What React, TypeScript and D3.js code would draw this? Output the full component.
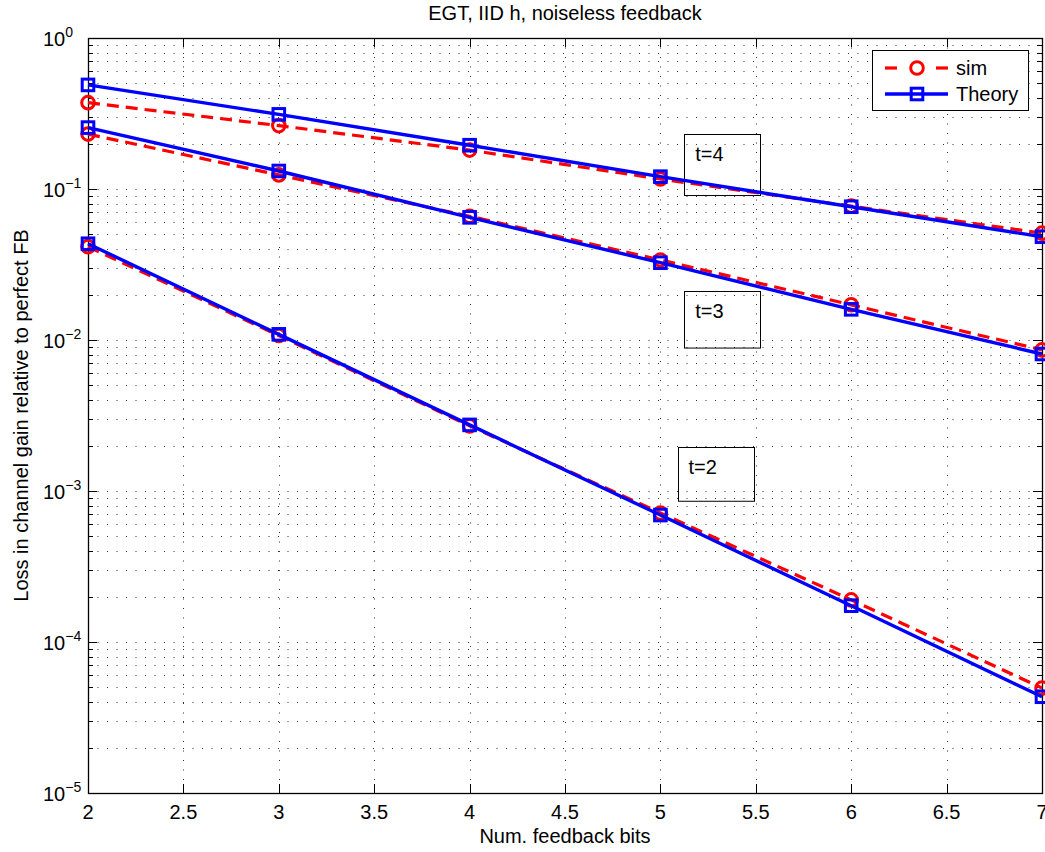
import React from "react";
import * as d3 from "d3";

const bits = [2, 3, 4, 5, 6, 7];
const simT4 = [0.373, 0.263, 0.181, 0.1165, 0.077, 0.051];
const thT4 = [0.489, 0.312, 0.195, 0.1207, 0.0763, 0.0483];
const simT3 = [0.231, 0.124, 0.066, 0.0339, 0.0171, 0.0086];
const thT3 = [0.255, 0.1316, 0.0649, 0.0325, 0.01596, 0.00808];
const simT2 = [0.0415, 0.0107, 0.0027, 7.15e-4, 1.9e-4, 4.96e-5];
const thT2 = [0.0434, 0.0109, 0.00274, 6.93e-4, 1.74e-4, 4.34e-5];

const xTicks = [2, 2.5, 3, 3.5, 4, 4.5, 5, 5.5, 6, 6.5, 7];
const yExponents = [0, -1, -2, -3, -4, -5];

const annotations = [
  { label: "t=4", x: 5.125, yTop: 0.2313, yBot: 0.0912 },
  { label: "t=3", x: 5.125, yTop: 0.0212, yBot: 0.00895 },
  { label: "t=2", x: 5.09, yTop: 0.00195, yBot: 0.000859 },
];

const title = "EGT, IID h, noiseless feedback";
const xLabel = "Num. feedback bits";
const yLabel = "Loss in channel gain relative to perfect FB";

const W = 1045;
const H = 852;
const L = 88;
const R = 1042;
const T = 38;
const B = 793;
const FONT = "'Liberation Sans', Arial, Helvetica, sans-serif";

export default function App() {
  const x = d3.scaleLinear().domain([2, 7]).range([L, R]);
  const y = d3.scaleLog().domain([1e-5, 1]).range([B, T]);

  const line = d3
    .line<[number, number]>()
    .x((d) => x(d[0]))
    .y((d) => y(d[1]));

  const simSeries = [simT4, simT3, simT2];
  const thSeries = [thT4, thT3, thT2];

  const minorY: number[] = [];
  for (let e = -5; e < 0; e++) {
    for (let m = 2; m <= 9; m++) minorY.push(m * Math.pow(10, e));
  }
  const majorY = yExponents.map((e) => Math.pow(10, e));

  const crisp = (v: number) => Math.round(v) + 0.5;
  const dotted = "1,8.5";

  return (
    <svg
      width={W}
      height={H}
      style={{ position: "absolute", left: 0, top: 0, background: "#fff" }}
      fontFamily={FONT}
    >
      <rect x={0} y={0} width={W} height={H} fill="#fff" />
      {/* grid */}
      <g stroke="#333" strokeWidth={1} strokeDasharray={dotted} fill="none">
        {xTicks.slice(1, -1).map((t) => (
          <line key={"gx" + t} x1={crisp(x(t))} x2={crisp(x(t))} y1={T} y2={B} />
        ))}
        {majorY.slice(1, -1).map((v) => (
          <line key={"gy" + v} x1={L} x2={R} y1={crisp(y(v))} y2={crisp(y(v))} />
        ))}
        {minorY.map((v) => (
          <line key={"gm" + v} x1={L} x2={R} y1={crisp(y(v))} y2={crisp(y(v))} />
        ))}
      </g>

      {/* ticks */}
      <g stroke="#000" strokeWidth={1}>
        {xTicks.map((t) => (
          <g key={"tx" + t}>
            <line x1={crisp(x(t))} x2={crisp(x(t))} y1={B} y2={B - 9} />
            <line x1={crisp(x(t))} x2={crisp(x(t))} y1={T} y2={T + 9} />
          </g>
        ))}
        {majorY.map((v) => (
          <g key={"ty" + v}>
            <line x1={L} x2={L + 9} y1={crisp(y(v))} y2={crisp(y(v))} />
            <line x1={R} x2={R - 9} y1={crisp(y(v))} y2={crisp(y(v))} />
          </g>
        ))}
        {minorY.map((v) => (
          <g key={"tm" + v}>
            <line x1={L} x2={L + 5} y1={crisp(y(v))} y2={crisp(y(v))} />
            <line x1={R} x2={R - 5} y1={crisp(y(v))} y2={crisp(y(v))} />
          </g>
        ))}
      </g>

      {/* axes box */}
      <rect
        x={L + 0.5}
        y={T + 0.5}
        width={R - L}
        height={B - T}
        fill="none"
        stroke="#000"
        strokeWidth={1.3}
      />

      {/* annotation boxes */}
      {annotations.map((a) => {
        const bx = x(a.x);
        const by = y(a.yTop);
        const bh = y(a.yBot) - by;
        return (
          <g key={a.label}>
            <rect
              x={crisp(bx)}
              y={crisp(by)}
              width={76}
              height={bh}
              fill="none"
              stroke="#000"
              strokeWidth={1}
            />
            <text x={bx + 11} y={by + 27} fontSize={20} fill="#000">
              {a.label}
            </text>
          </g>
        );
      })}

      {/* sim lines */}
      {simSeries.map((s, i) => (
        <path
          key={"sim" + i}
          d={line(bits.map((b, j) => [b, s[j]] as [number, number])) || ""}
          fill="none"
          stroke="#ff0000"
          strokeWidth={3.2}
          strokeDasharray="12,7"
        />
      ))}
      {simSeries.map((s, i) =>
        bits.map((b, j) => (
          <circle
            key={"sc" + i + "-" + j}
            cx={x(b)}
            cy={y(s[j])}
            r={6.3}
            fill="none"
            stroke="#ff0000"
            strokeWidth={3}
          />
        ))
      )}

      {/* theory lines */}
      {thSeries.map((s, i) => (
        <path
          key={"th" + i}
          d={line(bits.map((b, j) => [b, s[j]] as [number, number])) || ""}
          fill="none"
          stroke="#0000ff"
          strokeWidth={3.4}
        />
      ))}
      {thSeries.map((s, i) =>
        bits.map((b, j) => (
          <rect
            key={"ts" + i + "-" + j}
            x={x(b) - 5.8}
            y={y(s[j]) - 5.8}
            width={11.6}
            height={11.6}
            fill="none"
            stroke="#0000ff"
            strokeWidth={3}
          />
        ))
      )}

      {/* x tick labels */}
      {xTicks.map((t) => (
        <text
          key={"xl" + t}
          x={x(t)}
          y={B + 26}
          fontSize={20}
          textAnchor="middle"
          fill="#000"
        >
          {String(t)}
        </text>
      ))}

      {/* y tick labels */}
      {yExponents.map((e) => (
        <text key={"yl" + e} x={43} y={y(Math.pow(10, e)) + 8} fontSize={20} fill="#000">
          10
          <tspan dy={-9} fontSize={14}>
            {e === 0 ? "0" : "\u2212" + String(-e)}
          </tspan>
        </text>
      ))}

      {/* title and axis labels */}
      <text x={(L + R) / 2} y={20} fontSize={20} textAnchor="middle" fill="#000">
        {title}
      </text>
      <text x={(L + R) / 2} y={843} fontSize={20} textAnchor="middle" fill="#000">
        {xLabel}
      </text>
      <text
        transform={`translate(28, ${(T + B) / 2}) rotate(-90)`}
        fontSize={20}
        textAnchor="middle"
        fill="#000"
      >
        {yLabel}
      </text>

      {/* legend */}
      <g>
        <rect x={872.5} y={50.5} width={156} height={60} fill="#fff" stroke="#000" strokeWidth={1} />
        <line x1={885} x2={897} y1={68} y2={68} stroke="#ff0000" strokeWidth={3.2} />
        <line x1={936} x2={948} y1={68} y2={68} stroke="#ff0000" strokeWidth={3.2} />
        <circle cx={917} cy={68} r={6.3} fill="none" stroke="#ff0000" strokeWidth={3} />
        <text x={956} y={75} fontSize={20} fill="#000">
          sim
        </text>
        <line x1={885} x2={948} y1={94} y2={94} stroke="#0000ff" strokeWidth={3.4} />
        <rect x={917 - 5.8} y={94 - 5.8} width={11.6} height={11.6} fill="none" stroke="#0000ff" strokeWidth={3} />
        <text x={956} y={101} fontSize={20} fill="#000">
          Theory
        </text>
      </g>
    </svg>
  );
}
